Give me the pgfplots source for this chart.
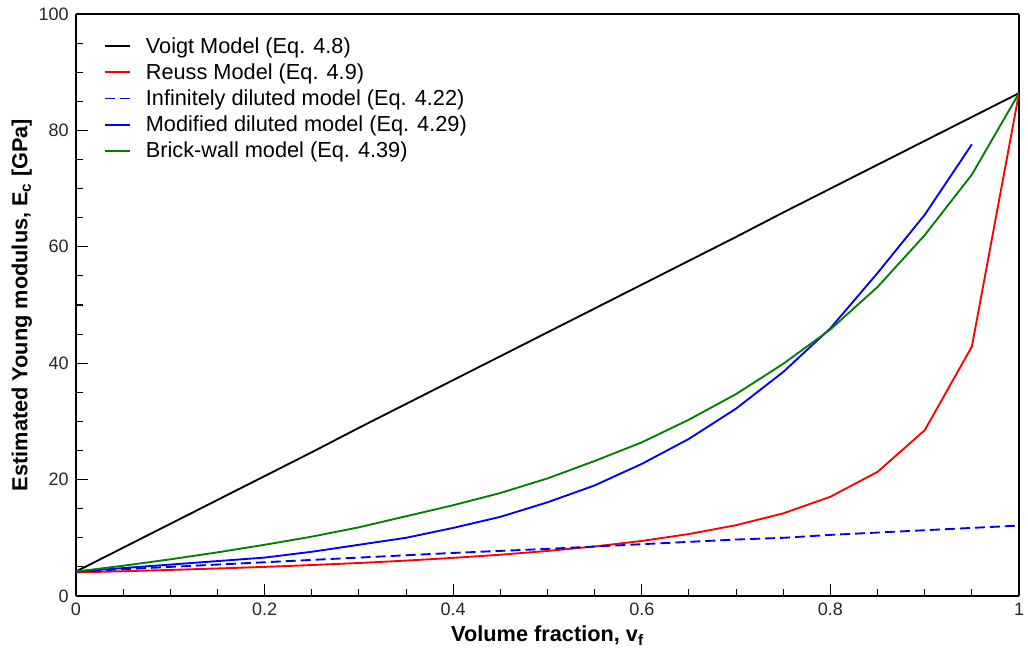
\documentclass[border=0pt]{standalone}
\usepackage{fontspec}
\setmainfont{Liberation Sans}
\usepackage{pgfplots}
\pgfplotsset{compat=1.18}

\definecolor{bwgreen}{RGB}{0,128,0}

\begin{document}
\begin{tikzpicture}
\useasboundingbox (-57pt,-45.75pt) rectangle (714pt,447pt);
\begin{axis}[
  scale only axis,
  width=707.25pt, height=436.5pt,
  xmin=0, xmax=1, ymin=0, ymax=100,
  xtick={0,0.2,0.4,0.6,0.8,1},
  xticklabels={0,0.2,0.4,0.6,0.8,1},
  ytick={0,20,40,60,80,100},
  minor x tick num=3, minor y tick num=3,
  tick pos=left, tick align=inside,
  major tick length=9pt, minor tick length=5pt,
  every tick/.style={black, line width=0.8pt},
  separate axis lines,
  every outer x axis line/.append style={line width=2pt, black},
  every outer y axis line/.append style={line width=2pt, black},
  /pgf/number format/assume math mode=true,
  tick label style={font=\fontsize{13.5}{16}\selectfont, text=black!85},
  xticklabel style={yshift=-2pt},
  yticklabel style={xshift=-2pt},
  xlabel={\bfseries Volume fraction, v\textsubscript{f}},
  ylabel={\bfseries Estimated Young modulus, E\textsubscript{c} [GPa]},
  label style={font=\fontsize{16.3}{19}\selectfont},
  xlabel style={yshift=-0.5pt},
  ylabel style={yshift=-2pt},
  legend cell align=left,
  legend style={at={(0.029,0.965)}, anchor=north west, draw=none, fill=none,
    font=\fontsize{16.3}{19}\selectfont, row sep=2.3pt, inner sep=0pt,
    nodes={inner sep=2pt}},
  legend image code/.code={%
    \draw[#1] (0pt,0pt) -- (19pt,0pt);
    \path[draw=none] (29pt,0pt);},
]
% Voigt model
\addplot[black, line width=1.4pt] coordinates {
 (0,4.2) (0.05,8.3) (0.1,12.4) (0.15,16.5) (0.2,20.6) (0.25,24.7) (0.3,28.9)
 (0.35,33.0) (0.4,37.1) (0.45,41.2) (0.5,45.3) (0.55,49.4) (0.6,53.5)
 (0.65,57.6) (0.7,61.7) (0.75,65.9) (0.8,70.0) (0.85,74.1) (0.9,78.2)
 (0.95,82.3) (1,86.4)};
\addlegendentry{Voigt Model (Eq. 4.8)}
% Reuss model
\addplot[red, line width=1.4pt] coordinates {
 (0,4.05) (0.05,4.25) (0.1,4.48) (0.15,4.73) (0.2,5.00) (0.25,5.32) (0.3,5.67)
 (0.35,6.08) (0.4,6.55) (0.45,7.09) (0.5,7.74) (0.55,8.51) (0.6,9.46)
 (0.65,10.65) (0.7,12.17) (0.75,14.20) (0.8,17.05) (0.85,21.33) (0.9,28.48)
 (0.95,42.84) (1,86.4)};
\addlegendentry{Reuss Model (Eq. 4.9)}
% Infinitely diluted model
\addplot[blue, line width=1.4pt, dash pattern=on 7.5pt off 3.75pt] coordinates {
 (0,4.2) (0.05,4.6) (0.1,5.0) (0.15,5.4) (0.2,5.8) (0.25,6.2) (0.3,6.6)
 (0.35,7.0) (0.4,7.4) (0.45,7.75) (0.5,8.1) (0.55,8.5) (0.6,8.9)
 (0.65,9.3) (0.7,9.7) (0.75,10.0) (0.8,10.5) (0.85,10.9) (0.9,11.3)
 (0.95,11.7) (1,12.1)};
\addlegendentry{Infinitely diluted model (Eq. 4.22)}
% Modified diluted model
\addplot[blue, line width=1.4pt] coordinates {
 (0,4.2) (0.05,4.8) (0.1,5.4) (0.15,6.0) (0.2,6.6) (0.25,7.6) (0.3,8.8)
 (0.35,10.0) (0.4,11.7) (0.45,13.6) (0.5,16.1) (0.55,19.0) (0.6,22.7)
 (0.65,27.0) (0.7,32.2) (0.75,38.5) (0.8,46.0) (0.85,55.5) (0.9,65.5)
 (0.95,77.6)};
\addlegendentry{Modified diluted model (Eq. 4.29)}
% Brick-wall model
\addplot[bwgreen, line width=1.4pt] coordinates {
 (0,4.2) (0.05,5.2) (0.1,6.3) (0.15,7.5) (0.2,8.8) (0.25,10.2) (0.3,11.8)
 (0.35,13.7) (0.4,15.6) (0.45,17.7) (0.5,20.2) (0.55,23.2) (0.6,26.4)
 (0.65,30.3) (0.7,34.7) (0.75,39.9) (0.8,45.8) (0.85,53.1) (0.9,62.0)
 (0.95,72.4) (1,86.4)};
\addlegendentry{Brick-wall model (Eq. 4.39)}
\end{axis}
\end{tikzpicture}
\end{document}
